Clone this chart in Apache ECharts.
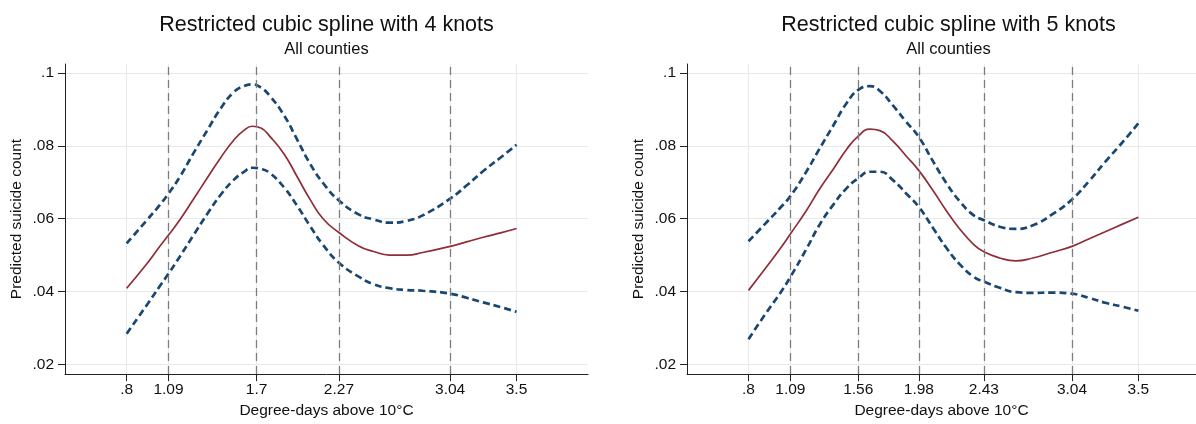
<!DOCTYPE html>
<html>
<head>
    <meta charset="utf-8"/>
    <style>
        html, body {
            height: 100%;
            margin: 0;
            padding: 0;
            background: #fff;
        }

        .container {
            width: 1196px;
            height: 424px;
        }
    </style>
</head>
<body>
<div id="main" class="container"></div>
<script src="https://cdn.jsdelivr.net/npm/echarts@6/dist/echarts.min.js"></script>
<script type="text/javascript">
// ---- data ----
// left panel: 4 knots
var xLeft = [0.8, 0.94, 1.03, 1.09, 1.17, 1.26, 1.36, 1.45, 1.54, 1.61, 1.67, 1.73, 1.79, 1.89, 1.98, 2.07, 2.16, 2.27, 2.41, 2.51, 2.62, 2.74, 2.85, 3.04, 3.16, 3.27, 3.39, 3.5];
var fitLeft = [0.0409, 0.0476, 0.0524, 0.0555, 0.0598, 0.0652, 0.0713, 0.0767, 0.0815, 0.0842, 0.0854, 0.0849, 0.0827, 0.0778, 0.0716, 0.0653, 0.0600, 0.0562, 0.0524, 0.0510, 0.0500, 0.0500, 0.0507, 0.0524, 0.0537, 0.0549, 0.0561, 0.0573];
var upLeft = [0.0532, 0.0596, 0.0638, 0.0669, 0.0716, 0.0778, 0.0844, 0.0902, 0.0947, 0.0964, 0.0969, 0.0960, 0.0938, 0.0884, 0.0818, 0.0751, 0.0698, 0.0650, 0.0611, 0.0598, 0.0589, 0.0594, 0.0609, 0.0655, 0.0693, 0.0731, 0.0768, 0.0803];
var loLeft = [0.0284, 0.0363, 0.0415, 0.0449, 0.0497, 0.0553, 0.0614, 0.0665, 0.0706, 0.0728, 0.0740, 0.0737, 0.0726, 0.0686, 0.0636, 0.0580, 0.0528, 0.0479, 0.0440, 0.0420, 0.0409, 0.0404, 0.0402, 0.0394, 0.0382, 0.0370, 0.0357, 0.0344];
var knotsLeft = [1.09, 1.7, 2.27, 3.04];
var xTicksLeft = [0.8, 1.09, 1.7, 2.27, 3.04, 3.5];

// right panel: 5 knots
var xRight = [0.8, 0.92, 1.02, 1.09, 1.2, 1.29, 1.39, 1.48, 1.56, 1.64, 1.71, 1.8, 1.89, 1.98, 2.08, 2.17, 2.26, 2.36, 2.43, 2.54, 2.65, 2.77, 2.9, 3.04, 3.16, 3.27, 3.39, 3.5];
var fitRight = [0.0403, 0.0465, 0.0518, 0.0558, 0.0622, 0.0680, 0.0738, 0.0791, 0.0827, 0.0846, 0.0842, 0.0813, 0.0773, 0.0732, 0.0676, 0.0622, 0.0573, 0.0529, 0.0509, 0.0492, 0.0484, 0.0492, 0.0507, 0.0524, 0.0545, 0.0564, 0.0585, 0.0604];
var upRight = [0.0538, 0.0588, 0.0630, 0.0662, 0.0729, 0.0791, 0.0858, 0.0918, 0.0954, 0.0964, 0.0951, 0.0911, 0.0867, 0.0824, 0.0756, 0.0698, 0.0649, 0.0609, 0.0596, 0.0578, 0.0572, 0.0582, 0.0611, 0.0653, 0.0704, 0.0756, 0.0810, 0.0862];
var loRight = [0.0269, 0.0340, 0.0396, 0.0440, 0.0516, 0.0582, 0.0640, 0.0684, 0.0711, 0.0729, 0.0729, 0.0706, 0.0670, 0.0632, 0.0573, 0.0520, 0.0476, 0.0440, 0.0427, 0.0410, 0.0398, 0.0396, 0.0397, 0.0394, 0.0382, 0.0369, 0.0358, 0.0347];
var knotsRight = [1.09, 1.56, 1.98, 2.43, 3.04];
var xTicksRight = [0.8, 1.09, 1.56, 1.98, 2.43, 3.04, 3.5];

var yTicks = [0.02, 0.04, 0.06, 0.08, 0.1];
var titles = ['Restricted cubic spline with 4 knots', 'Restricted cubic spline with 5 knots'];
var subTitle = 'All counties';
var xName = 'Degree-days above 10°C';
var yName = 'Predicted suicide count';

// ---- styles ----
var fontFamily = 'Liberation Sans, Arial, sans-serif';
var textColor = '#111';
var fitColor = '#8f2d38';
var ciColor = '#1a476f';
var knotColor = '#7d7d7d';
var gridColor = '#e9e9e9';

function stataNum(v) {
    // .8 instead of 0.8
    return String(+v.toFixed(4)).replace(/^0\./, '.');
}

function pairs(xs, ys) {
    var out = [];
    for (var i = 0; i < xs.length; i++) {
        out.push([xs[i], ys[i]]);
    }
    return out;
}

var myChart = echarts.init(document.getElementById('main'), null, {renderer: 'canvas'});

var grids = [
    {left: 65, top: 64, width: 523, height: 319},
    {left: 687, top: 64, width: 509, height: 319}
];
var xRanges = [[0.373, 3.995], [0.374, 3.899]];
var xTickSets = [xTicksLeft, xTicksRight];

var xAxes = [], yAxes = [], titleList = [];
for (var p = 0; p < 2; p++) {
    xAxes.push({
        type: 'value',
        gridIndex: p,
        min: xRanges[p][0],
        max: xRanges[p][1],
        name: xName,
        nameLocation: 'middle',
        nameGap: 26,
        nameTextStyle: {color: textColor, fontSize: 15.5, fontFamily: fontFamily},
        axisLine: {show: true, lineStyle: {color: '#222', width: 1}},
        axisTick: {show: true, length: 7, customValues: xTickSets[p], lineStyle: {color: '#222'}},
        axisLabel: {
            customValues: xTickSets[p],
            margin: 8,
            color: textColor,
            fontSize: 15.5,
            fontFamily: fontFamily,
            formatter: stataNum
        },
        splitLine: {show: true, lineStyle: {color: gridColor, width: 1}}
    });
    yAxes.push({
        type: 'value',
        gridIndex: p,
        min: 0.0173,
        max: 0.1025,
        name: yName,
        nameLocation: 'middle',
        nameGap: 40,
        nameTextStyle: {color: textColor, fontSize: 15.5, fontFamily: fontFamily},
        axisLine: {show: true, lineStyle: {color: '#222', width: 1}},
        axisTick: {show: true, length: 7, customValues: yTicks, lineStyle: {color: '#222'}},
        axisLabel: {
            customValues: yTicks,
            margin: 11,
            color: textColor,
            fontSize: 15.5,
            fontFamily: fontFamily,
            formatter: stataNum
        },
        splitLine: {show: true, lineStyle: {color: gridColor, width: 1}}
    });
    var cx = grids[p].left + 523 / 2;
    titleList.push({
        text: titles[p],
        left: cx,
        top: 14,
        padding: 0,
        textAlign: 'center',
        textStyle: {color: textColor, fontSize: 21.5, fontWeight: 'normal', fontFamily: fontFamily}
    });
    titleList.push({
        text: subTitle,
        left: cx,
        top: 41,
        padding: 0,
        textAlign: 'center',
        textStyle: {color: textColor, fontSize: 16.5, fontWeight: 'normal', fontFamily: fontFamily}
    });
}

function knotSeries(idx, knots) {
    var d = [];
    for (var i = 0; i < knots.length; i++) d.push({xAxis: knots[i]});
    return {
        type: 'line',
        xAxisIndex: idx,
        yAxisIndex: idx,
        data: [],
        z: 1,
        silent: true,
        markLine: {
            silent: true,
            symbol: ['none', 'none'],
            label: {show: false},
            animation: false,
            lineStyle: {color: knotColor, type: [8, 5], width: 1.3},
            data: d
        }
    };
}

function ciSeries(idx, xs, ys) {
    return {
        type: 'line',
        xAxisIndex: idx,
        yAxisIndex: idx,
        data: pairs(xs, ys),
        smooth: 0.5,
        showSymbol: false,
        z: 3,
        lineStyle: {color: ciColor, width: 2.7, type: [7, 4]}
    };
}

function fitSeries(idx, xs, ys) {
    return {
        type: 'line',
        xAxisIndex: idx,
        yAxisIndex: idx,
        data: pairs(xs, ys),
        smooth: 0.5,
        showSymbol: false,
        z: 4,
        lineStyle: {color: fitColor, width: 1.7}
    };
}

var option = {
    animation: false,
    backgroundColor: '#fff',
    title: titleList,
    grid: grids,
    xAxis: xAxes,
    yAxis: yAxes,
    series: [
        knotSeries(0, knotsLeft),
        ciSeries(0, xLeft, upLeft),
        ciSeries(0, xLeft, loLeft),
        fitSeries(0, xLeft, fitLeft),
        knotSeries(1, knotsRight),
        ciSeries(1, xRight, upRight),
        ciSeries(1, xRight, loRight),
        fitSeries(1, xRight, fitRight)
    ]
};

myChart.setOption(option);
</script>
</body>
</html>
